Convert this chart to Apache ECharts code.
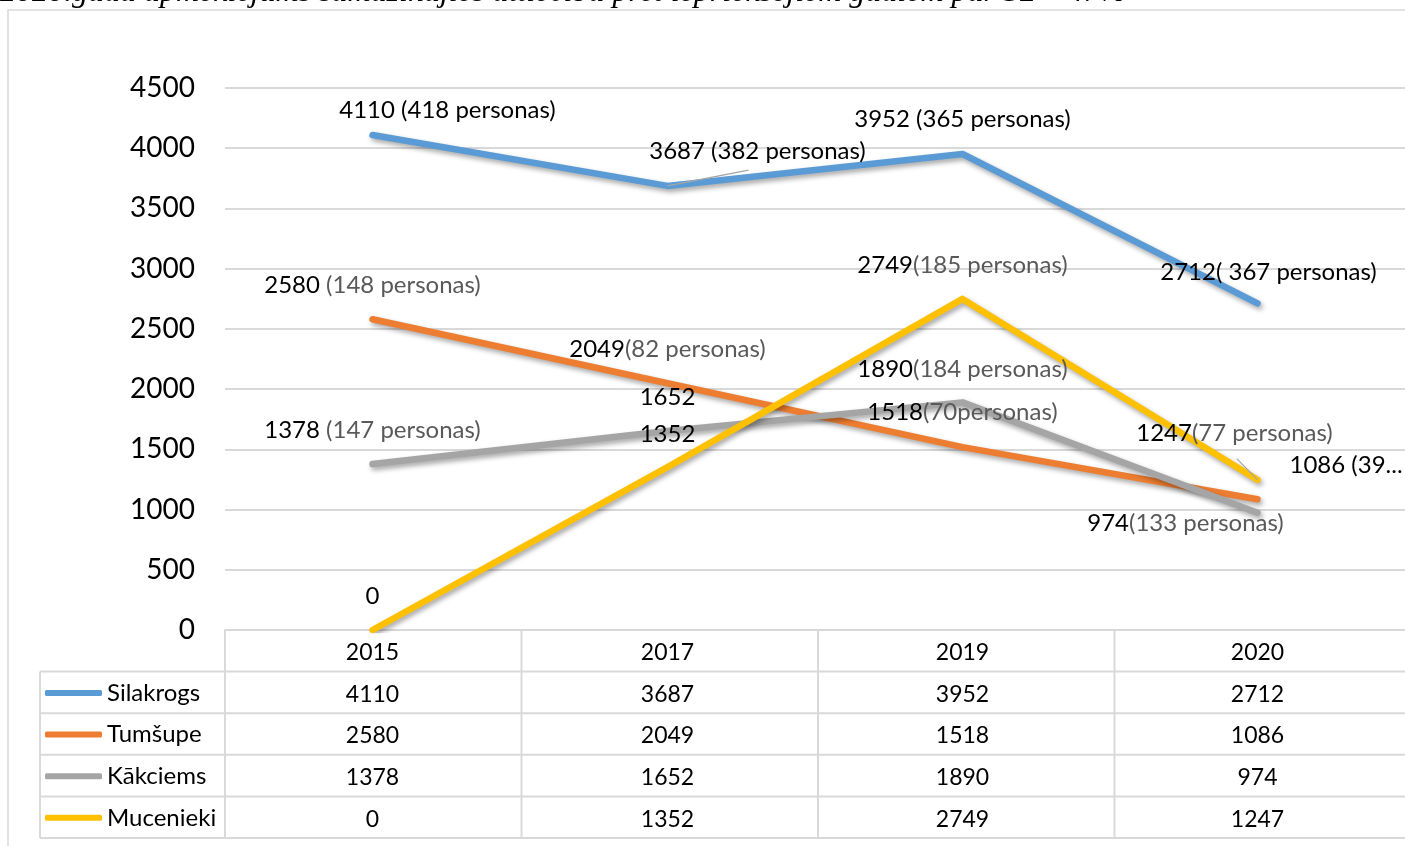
<!DOCTYPE html>
<html>
<head>
<meta charset="utf-8">
<script src="https://cdn.jsdelivr.net/npm/echarts@6/dist/echarts.min.js"></script>
<style>
  html, body { margin: 0; padding: 0; background: #fff; }
  #chart { width: 1405px; height: 846px; }
</style>
</head>
<body>
<div id="chart"></div>
<script>
// data
const years = ['2015', '2017', '2019', '2020'];
const seriesNames = ['Silakrogs', 'Tumšupe', 'Kākciems', 'Mucenieki'];
const silakrogs = [4110, 3687, 3952, 2712];
const tumsupe = [2580, 2049, 1518, 1086];
const kakciems = [1378, 1652, 1890, 974];
const mucenieki = [0, 1352, 2749, 1247];
const silakrogsLabels = ['4110 (418 personas)', '3687 (382 personas)', '3952 (365 personas)', '2712( 367 personas)'];
const tumsupeLabels = ['2580 (148 personas)', '2049(82 personas)', '1518(70personas)', '1086 (39 personas)'];
const kakciemsLabels = ['1378 (147 personas)', '1652', '1890(184 personas)', '974(133 personas)'];
const muceniekiLabels = ['0', '1352', '2749(185 personas)', '1247(77 personas)'];
const yMin = 0, yMax = 4500, yStep = 500;
const headline = '2020.gadā apmeklējums samazinājies attiecībā pret iepriekšējiem gadiem par 32 – 47%';

// styling / layout
const colors = ['#5B9BD5', '#ED7D31', '#A5A5A5', '#FFC000'];
const noteColors = ['#000', '#595959', '#595959', '#595959'];
const labelShift = [
  [[75, -25], [90, -35], [0, -35], [11, -31]],
  [[0, -34], [0, -34], [0, -35], [32, -34]],
  [[0, -34], [0, -34], [0, -33], [-72, 11]],
  [[0, -34], [0, -33], [0, -34], [-23, -47]]
];
const leaderLines = [[0, 1], [3, 3]]; // [series, point]
const FONT = 'Lato, "Open Sans", sans-serif';
const GRID_LEFT = 225, GRID_TOP = 88, GRID_W = 1186, GRID_H = 542;
const ROW_H = 41.6;
const LINE_GREY = '#d9d9d9';

const values = [silakrogs, tumsupe, kakciems, mucenieki];
const labels = [silakrogsLabels, tumsupeLabels, kakciemsLabels, muceniekiLabels];

function richLabel(text) {
  const i = text.indexOf('(');
  if (i < 0) return '{n|' + text + '}';
  return '{n|' + text.slice(0, i) + '}{p|' + text.slice(i) + '}';
}

// the lines themselves
const lineSeries = seriesNames.map((name, s) => ({
  name,
  type: 'line',
  data: values[s],
  symbol: 'none',
  itemStyle: { color: colors[s] },
  lineStyle: {
    color: colors[s],
    width: 6.5,
    cap: 'round',
    join: 'round',
    shadowColor: 'rgba(0,0,0,0.35)',
    shadowBlur: 5,
    shadowOffsetX: 2,
    shadowOffsetY: 3
  },
  emphasis: { disabled: true },
  silent: true
}));

// data labels sit above every line, as in the original
const labelSeries = seriesNames.map((name, s) => ({
  type: 'line',
  data: values[s].map((v, i) => {
    const [dx, dy] = labelShift[s][i];
    const truncated = s === 1 && i === 3;
    return {
      value: v,
      label: {
        position: [dx + 1, dy + 1],
        align: truncated ? 'left' : 'center',
        verticalAlign: 'middle',
        width: truncated ? 118 : undefined,
        overflow: truncated ? 'truncate' : 'none',
        formatter: truncated ? labels[s][i] : richLabel(labels[s][i]),
        color: '#000'
      }
    };
  }),
  symbol: 'circle',
  symbolSize: 2,
  itemStyle: { color: 'rgba(0,0,0,0)' },
  lineStyle: { width: 0, opacity: 0 },
  label: {
    show: true,
    fontFamily: FONT,
    fontSize: 24,
    rich: {
      n: { color: '#000', fontFamily: FONT, fontSize: 24 },
      p: { color: noteColors[s], fontFamily: FONT, fontSize: 24 }
    }
  },
  emphasis: { disabled: true },
  silent: true,
  z: 10
}));

const chart = echarts.init(document.getElementById('chart'));

chart.setOption({
  backgroundColor: '#fff',
  animation: false,
  grid: { left: GRID_LEFT, top: GRID_TOP, width: GRID_W, height: GRID_H },
  legend: {
    orient: 'vertical',
    left: 40,
    top: 673,
    itemWidth: 57,
    itemHeight: 6,
    itemGap: ROW_H - 30,
    icon: 'roundRect',
    selectedMode: false,
    data: seriesNames,
    textStyle: { fontFamily: FONT, fontSize: 24, color: '#000', lineHeight: 24, padding: [0, 0, 6, 0] }
  },
  xAxis: {
    type: 'category',
    data: years,
    boundaryGap: true,
    axisLine: { show: true, lineStyle: { color: LINE_GREY, width: 2 } },
    axisTick: { show: false },
    axisLabel: {
      margin: 2,
      verticalAlign: 'top',
      fontFamily: FONT,
      fontSize: 23,
      color: '#000',
      lineHeight: ROW_H,
      formatter: (v, i) => [v].concat(values.map(arr => arr[i])).join('\n')
    }
  },
  yAxis: {
    type: 'value',
    min: yMin,
    max: yMax,
    interval: yStep,
    axisLine: { show: false },
    axisTick: { show: false },
    axisLabel: { fontFamily: FONT, fontSize: 28, color: '#000', margin: 30, formatter: v => String(v) },
    splitLine: { lineStyle: { color: LINE_GREY, width: 2 } }
  },
  series: lineSeries.concat(labelSeries)
});

// table rules, frame, leader lines and the clipped headline
const bandW = GRID_W / years.length;
const axisY = GRID_TOP + GRID_H;
const tableBottom = axisY + ROW_H * (seriesNames.length + 1);
const graphics = [];
graphics.push({
  type: 'rect', shape: { x: 8, y: 10, width: 1420, height: 860 },
  style: { fill: null, stroke: LINE_GREY, lineWidth: 1.5 }, silent: true
});
for (let i = 0; i <= years.length; i++) {
  const x = GRID_LEFT + bandW * i;
  graphics.push({
    type: 'line', shape: { x1: x, y1: axisY, x2: x, y2: tableBottom },
    style: { stroke: LINE_GREY, lineWidth: 2 }, silent: true
  });
}
graphics.push({
  type: 'line', shape: { x1: 40, y1: axisY + ROW_H, x2: 40, y2: tableBottom },
  style: { stroke: LINE_GREY, lineWidth: 2 }, silent: true
});
for (let r = 1; r <= seriesNames.length + 1; r++) {
  const y = axisY + ROW_H * r;
  graphics.push({
    type: 'line', shape: { x1: 40, y1: y, x2: 1420, y2: y },
    style: { stroke: LINE_GREY, lineWidth: 2 }, silent: true
  });
}
leaderLines.forEach(([s, i]) => {
  const [px, py] = chart.convertToPixel({ gridIndex: 0 }, [i, values[s][i]]);
  const [dx, dy] = labelShift[s][i];
  graphics.push({
    type: 'line', shape: { x1: px, y1: py, x2: px + dx * 0.9, y2: py + dy * 0.45 },
    style: { stroke: '#a5a5a5', lineWidth: 1.2 }, silent: true, z: 20
  });
});
graphics.push({
  type: 'text', left: 0, top: -23,
  style: {
    text: headline,
    font: 'italic 32px "Liberation Serif", serif',
    fill: '#000'
  },
  silent: true
});
chart.setOption({ graphic: graphics });
</script>
</body>
</html>
